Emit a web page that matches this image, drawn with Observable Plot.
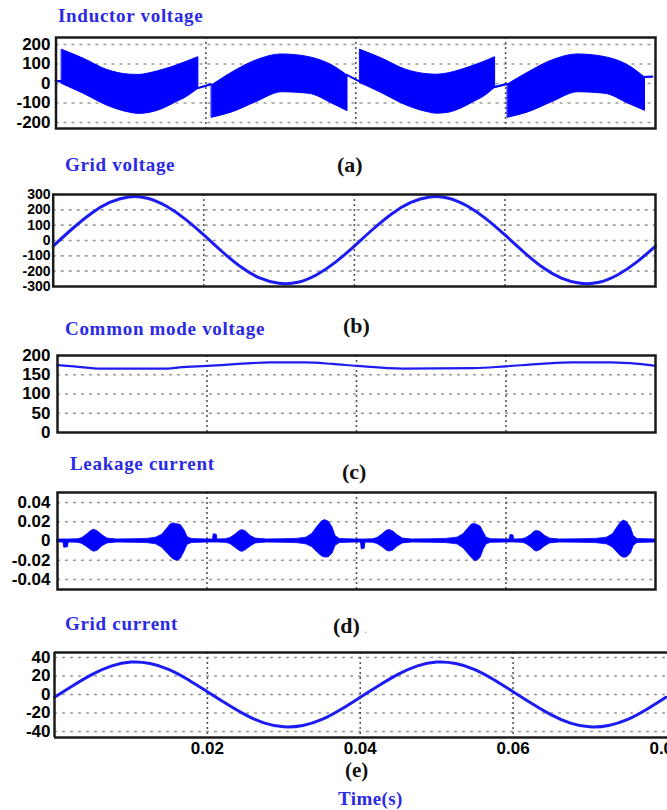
<!DOCTYPE html>
<html><head><meta charset="utf-8">
<script src="https://cdn.jsdelivr.net/npm/d3@7"></script>
<script src="https://cdn.jsdelivr.net/npm/@observablehq/plot@0.6"></script>
<style>
html,body{margin:0;padding:0;background:#fff;}
#root{position:relative;width:667px;height:810px;overflow:hidden;background:#fff;}
</style></head><body><div id="root"></div>
<script>
// ---------- text ----------
const titles = ["Inductor voltage", "Grid voltage", "Common mode voltage", "Leakage current", "Grid current"];
const panelLetters = ["(a)", "(b)", "(c)", "(d)", "(e)"];
const xTitle = "Time(s)";

// ---------- ticks ----------
const timeTicks = [0.02, 0.04, 0.06, 0.08];
const inductorTicks = [-200, -100, 0, 100, 200];
const gridVoltageTicks = [-300, -200, -100, 0, 100, 200, 300];
const commonModeTicks = [0, 50, 100, 150, 200];
const leakageTicks = [-0.04, -0.02, 0, 0.02, 0.04];
const gridCurrentTicks = [-40, -20, 0, 20, 40];

// ---------- (a) inductor voltage: PWM band envelope (segments: bands and thin transitions) ----------
const inductorSegment = [0, 0,
                    1, 1, 1, 1, 1, 1, 1, 1, 1, 1,
                    2, 2,
                    3, 3, 3, 3, 3, 3, 3,
                    4, 4,
                    5, 5, 5, 5, 5, 5, 5, 5, 5, 5,
                    6, 6,
                    7, 7, 7, 7, 7, 7, 7,
                    8, 8];
const inductorT  = [0, 0.0008,
                    0.0008, 0.0037, 0.0068, 0.0099, 0.0110, 0.0126, 0.0143, 0.0161, 0.0170, 0.0190,
                    0.0190, 0.0208,
                    0.0208, 0.0236, 0.0267, 0.0302, 0.0338, 0.0369, 0.0389,
                    0.0389, 0.0406,
                    0.0406, 0.0435, 0.0466, 0.0497, 0.0508, 0.0524, 0.0541, 0.0559, 0.0568, 0.0586,
                    0.0586, 0.0603,
                    0.0603, 0.0631, 0.0662, 0.0697, 0.0733, 0.0764, 0.0786,
                    0.0786, 0.0797];
const inductorLo = [8, 4,
                    -2, -53, -113, -150, -156, -150, -130, -95, -79, -27,
                    -29, -9,
                    -176, -147, -96, -45, -53, -104, -142,
                    38, 4,
                    2, -50, -110, -148, -155, -150, -128, -92, -75, -22,
                    -24, -8,
                    -176, -147, -96, -45, -53, -104, -140,
                    28, 30];
const inductorHi = [14, 12,
                    173, 127, 70, 45, 44, 53, 70, 92, 105, 135,
                    -23, -3,
                    -10, 58, 118, 149, 135, 92, 41,
                    44, 10,
                    173, 128, 72, 47, 45, 52, 70, 93, 106, 135,
                    -17, -2,
                    -5, 58, 118, 149, 135, 92, 30,
                    34, 36];

// ---------- (b) grid voltage, (e) grid current ----------
const sampleT = [0, 0.0025, 0.005, 0.0075, 0.01, 0.0125, 0.015, 0.0175, 0.02, 0.0225, 0.025, 0.0275, 0.03, 0.0325, 0.035, 0.0375,
                 0.04, 0.0425, 0.045, 0.0475, 0.05, 0.0525, 0.055, 0.0575, 0.06, 0.0625, 0.065, 0.0675, 0.07, 0.0725, 0.075, 0.0775, 0.08];
const gridVoltage = [-36, 75, 175, 248, 284, 276, 225, 141, 36, -75, -175, -246, -279, -272, -223, -141,
                     -36, 75, 175, 248, 284, 276, 225, 141, 36, -75, -175, -246, -279, -272, -223, -141, -36];
const gridCurrent = [-3, 10, 22, 31, 35, 33.5, 27, 16, 3, -10, -22, -31, -35, -33.5, -27, -16,
                     -3, 10, 22, 31, 35, 33.5, 27, 16, 3, -10, -22, -31, -35, -33.5, -27, -16, -3];

// ---------- (c) common mode voltage ----------
const commonModeT = [0, 0.0022, 0.0058, 0.0148, 0.0163, 0.02, 0.0242, 0.0284, 0.0331, 0.0368, 0.04, 0.0462, 0.0557, 0.06, 0.0646, 0.0688, 0.0741, 0.0777, 0.08];
const commonModeV = [175, 172, 166, 166, 169, 173, 178, 182, 182, 178, 173, 166, 167, 172, 178, 182, 182, 178, 173];

// ---------- (d) leakage current envelope ----------
const leakT = [0, 0.0008, 0.0009, 0.0014, 0.0015, 0.0028,
  0.0033, 0.0040, 0.0045, 0.0049, 0.0054, 0.0060, 0.0067, 0.0080,
  0.0100, 0.0120, 0.0132, 0.0140, 0.0146, 0.0151, 0.0155, 0.0160, 0.0165, 0.0170, 0.0174, 0.0180, 0.0200,
  0.0208, 0.0209, 0.0213, 0.0214, 0.0225,
  0.0231, 0.0238, 0.0243, 0.0247, 0.0252, 0.0258, 0.0265, 0.0280,
  0.0300, 0.0320, 0.0333, 0.0341, 0.0348, 0.0354, 0.0358, 0.0363, 0.0368, 0.0372, 0.0378, 0.0400,
  0.0406, 0.0407, 0.0411, 0.0412, 0.0422,
  0.0428, 0.0435, 0.0440, 0.0444, 0.0449, 0.0455, 0.0462, 0.0475,
  0.0500, 0.0520, 0.0535, 0.0543, 0.0549, 0.0554, 0.0557, 0.0561, 0.0566, 0.0570, 0.0574, 0.0580, 0.0600,
  0.0605, 0.0606, 0.0610, 0.0611, 0.0622,
  0.0627, 0.0634, 0.0638, 0.0641, 0.0646, 0.0652, 0.0659, 0.0672,
  0.0700, 0.0720, 0.0735, 0.0743, 0.0749, 0.0754, 0.0758, 0.0762, 0.0767, 0.0771, 0.0776, 0.0800];
const leakHi = [0.0016, 0.0016, 0.0016, 0.0016, 0.0016, 0.0019,
  0.0030, 0.0070, 0.0105, 0.0118, 0.0100, 0.0060, 0.0025, 0.0016,
  0.0018, 0.0022, 0.0035, 0.0065, 0.0120, 0.0170, 0.0183, 0.0175, 0.0165, 0.0110, 0.0040, 0.0020, 0.0016,
  0.0016, 0.0070, 0.0065, 0.0016, 0.0019,
  0.0030, 0.0065, 0.0100, 0.0114, 0.0100, 0.0055, 0.0025, 0.0016,
  0.0018, 0.0022, 0.0035, 0.0075, 0.0150, 0.0205, 0.0217, 0.0200, 0.0140, 0.0050, 0.0020, 0.0016,
  0.0016, 0.0016, 0.0016, 0.0016, 0.0019,
  0.0030, 0.0070, 0.0105, 0.0115, 0.0100, 0.0060, 0.0025, 0.0016,
  0.0018, 0.0022, 0.0035, 0.0070, 0.0125, 0.0170, 0.0177, 0.0170, 0.0150, 0.0090, 0.0035, 0.0019, 0.0016,
  0.0016, 0.0063, 0.0058, 0.0016, 0.0019,
  0.0030, 0.0065, 0.0095, 0.0104, 0.0095, 0.0055, 0.0025, 0.0016,
  0.0018, 0.0022, 0.0035, 0.0070, 0.0140, 0.0195, 0.0212, 0.0195, 0.0140, 0.0050, 0.0020, 0.0016];
const leakLo = [-0.0016, -0.0016, -0.0070, -0.0065, -0.0016, -0.0019,
  -0.0030, -0.0065, -0.0095, -0.0112, -0.0100, -0.0055, -0.0025, -0.0016,
  -0.0018, -0.0022, -0.0035, -0.0070, -0.0120, -0.0160, -0.0190, -0.0207, -0.0185, -0.0110, -0.0040, -0.0020, -0.0016,
  -0.0016, -0.0016, -0.0016, -0.0016, -0.0019,
  -0.0030, -0.0070, -0.0100, -0.0114, -0.0095, -0.0060, -0.0025, -0.0016,
  -0.0018, -0.0022, -0.0035, -0.0065, -0.0120, -0.0160, -0.0172, -0.0170, -0.0130, -0.0050, -0.0020, -0.0016,
  -0.0016, -0.0087, -0.0080, -0.0016, -0.0019,
  -0.0030, -0.0065, -0.0098, -0.0110, -0.0100, -0.0058, -0.0025, -0.0016,
  -0.0018, -0.0022, -0.0035, -0.0075, -0.0130, -0.0175, -0.0200, -0.0210, -0.0175, -0.0090, -0.0035, -0.0019, -0.0016,
  -0.0016, -0.0016, -0.0016, -0.0016, -0.0019,
  -0.0030, -0.0068, -0.0100, -0.0110, -0.0095, -0.0058, -0.0025, -0.0016,
  -0.0018, -0.0022, -0.0035, -0.0068, -0.0120, -0.0160, -0.0174, -0.0170, -0.0130, -0.0050, -0.0020, -0.0016];

// ---------- tables ----------
const inductorData = inductorT.map((t, i) => ({t, seg: inductorSegment[i], lo: inductorLo[i], hi: inductorHi[i]}));
const gridVData = sampleT.map((t, i) => ({t, v: gridVoltage[i]}));
const gridIData = sampleT.map((t, i) => ({t, v: gridCurrent[i]}));
const cmData = commonModeT.map((t, i) => ({t, v: commonModeV[i]}));
const leakData = leakT.map((t, i) => ({t, lo: leakLo[i], hi: leakHi[i]}));

const root = document.getElementById("root");
const BLUE = "#0000ff";
const LINE = "#1c1cf2";
const baseFont = {fontFamily: "'Liberation Sans', Arial, sans-serif", fontWeight: "bold", background: "transparent", color: "#000"};

function panel({l, r, t, b, yDomain, yTicks, hGrid, marks, xAxis = false, xMax = 0.08, fontSize = 17}) {
  const mt = 12, mb = xAxis ? 30 : 12;
  const frameMarks = xAxis
    ? [Plot.ruleY([yDomain[0], yDomain[1]], {stroke: "#1a1a1a", strokeWidth: 2.5}),
       Plot.ruleX([0], {stroke: "#1a1a1a", strokeWidth: 2.5})]
    : [Plot.frame({stroke: "#1a1a1a", strokeWidth: 2.5})];
  const svg = Plot.plot({
    width: 667,
    height: mt + (b - t) + mb,
    marginLeft: l, marginRight: 667 - r, marginTop: mt, marginBottom: mb,
    style: {...baseFont, fontSize: fontSize + "px"},
    x: xAxis
      ? {domain: [0, xMax], ticks: timeTicks, tickSize: 0, tickPadding: 4, tickFormat: d => String(d), label: null}
      : {domain: [0, xMax], axis: null},
    y: {domain: yDomain, ticks: yTicks, tickSize: 0, tickPadding: l - 50, tickFormat: d => String(d), label: null},
    marks: [
      Plot.ruleY(hGrid, {stroke: "#9a9a9a", strokeDasharray: "3,5", strokeWidth: 1.6}),
      Plot.ruleX([0.02, 0.04, 0.06], {stroke: "#555", strokeDasharray: "2,3", strokeWidth: 1.6}),
      ...marks,
      ...frameMarks
    ]
  });
  svg.style.position = "absolute";
  svg.style.left = "0px";
  svg.style.top = (t - mt) + "px";
  root.appendChild(svg);
}

// (a)
panel({l: 55.5, r: 655, t: 37, b: 128, yDomain: [-231, 236], yTicks: inductorTicks, hGrid: inductorTicks,
  marks: [Plot.areaY(inductorData, {x: "t", y1: "lo", y2: "hi", z: "seg", fill: BLUE, stroke: BLUE, strokeWidth: 1, curve: "monotone-x"})]});
// (b)
panel({l: 52.7, r: 655, t: 194, b: 286, yDomain: [-300, 300], yTicks: gridVoltageTicks, hGrid: [-200, -100, 0, 100, 200], fontSize: 14,
  marks: [Plot.line(gridVData, {x: "t", y: "v", stroke: LINE, strokeWidth: 3, curve: "natural"})]});
// (c)
panel({l: 57, r: 655, t: 355, b: 432, yDomain: [0, 200], yTicks: commonModeTicks, hGrid: [50, 100, 150],
  marks: [Plot.line(cmData, {x: "t", y: "v", stroke: LINE, strokeWidth: 2.2, curve: "monotone-x"})]});
// (d)
panel({l: 57, r: 655, t: 492, b: 589, yDomain: [-0.0504, 0.0504], yTicks: leakageTicks, hGrid: leakageTicks,
  marks: [Plot.areaY(leakData, {x: "t", y1: "lo", y2: "hi", fill: BLUE, stroke: BLUE, strokeWidth: 0.8})]});
// (e)
panel({l: 54, r: 667, t: 652, b: 737, yDomain: [-46.5, 45.4], yTicks: gridCurrentTicks, hGrid: gridCurrentTicks, xAxis: true, xMax: 0.0802,
  marks: [Plot.line(gridIData, {x: "t", y: "v", stroke: LINE, strokeWidth: 3, curve: "natural"})]});

// ---------- titles & labels ----------
const overlay = d3.create("svg").attr("width", 667).attr("height", 810)
  .style("position", "absolute").style("left", "0px").style("top", "0px").style("pointer-events", "none");
const titlePos = [[58, 22], [65, 171], [65, 335], [70, 470], [65, 630]];
titles.forEach((s, i) => overlay.append("text").attr("x", titlePos[i][0]).attr("y", titlePos[i][1])
  .attr("fill", "#2a2ae6").attr("font-family", "'Liberation Serif', 'Times New Roman', serif")
  .attr("font-weight", "bold").attr("font-size", 19).attr("letter-spacing", "0.7px").text(s));
const letterPos = [[337, 172], [343, 333], [342, 479], [333, 633], [345, 777]];
const letterSize = [22, 22, 22, 22, 21];
panelLetters.forEach((s, i) => overlay.append("text").attr("x", letterPos[i][0]).attr("y", letterPos[i][1])
  .attr("fill", "#111").attr("font-family", "'Liberation Serif', 'Times New Roman', serif")
  .attr("font-weight", "bold").attr("font-size", letterSize[i]).text(s));
overlay.append("text").attr("x", 364).attr("y", 633).attr("fill", "#999")
  .attr("font-family", "'Liberation Serif', serif").attr("font-size", 12).text(".");
overlay.append("text").attr("x", 338).attr("y", 805)
  .attr("fill", "#2a2ae6").attr("font-family", "'Liberation Serif', 'Times New Roman', serif")
  .attr("font-weight", "bold").attr("font-size", 19).attr("letter-spacing", "0.4px").text(xTitle);
root.appendChild(overlay.node());
</script></body></html>
